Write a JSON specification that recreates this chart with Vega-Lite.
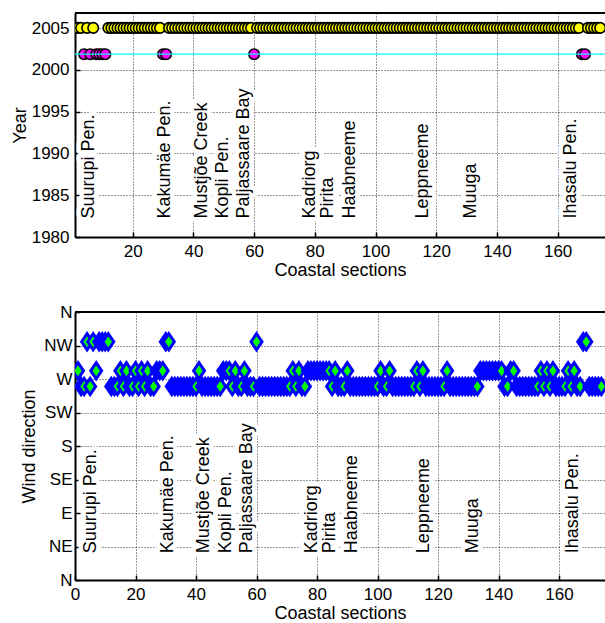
{
  "$schema": "https://vega.github.io/schema/vega-lite/v6.json",
  "background": "white",
  "padding": {"left": 11, "top": 12, "right": 0, "bottom": 0},
  "spacing": 24,
  "config": {
    "font": "Liberation Sans",
    "view": {"stroke": null},
    "axis": {
      "labelFont": "Liberation Sans", "titleFont": "Liberation Sans",
      "labelColor": "#000", "titleColor": "#000",
      "labelFontSize": 17, "titleFontSize": 18, "titleFontWeight": "normal",
      "domainColor": "#000", "domainWidth": 2,
      "tickColor": "#000", "tickWidth": 1.5, "tickSize": -5,
      "gridColor": "#000", "gridDash": [1, 2], "gridOpacity": 0.8, "gridWidth": 1,
      "labelFlush": false, "labelOverlap": false
    }
  },
  "datasets": {
    "ref": [{"year": 2001.87}],
    "places": [
      {"name": "Suurupi Pen.", "s": 5.45},
      {"name": "Kakumäe Pen.", "s": 30.6},
      {"name": "Mustjõe Creek", "s": 42.8},
      {"name": "Kopli Pen.", "s": 49.8},
      {"name": "Paljassaare Bay", "s": 56.8},
      {"name": "Kadriorg", "s": 78.5},
      {"name": "Pirita", "s": 84.3},
      {"name": "Haabneeme", "s": 91.7},
      {"name": "Leppneeme", "s": 115.5},
      {"name": "Muuga", "s": 131.4},
      {"name": "Ihasalu Pen.", "s": 164.5}
    ],
    "sec": [
      {"s":1,"year":2005.02,"dir":281},{"s":2,"year":2005.02,"dir":260},{"s":3,"year":2005.02,"dir":260},
      {"s":4,"year":2001.87,"dir":320},{"s":5,"year":2005.02,"dir":260},{"s":6,"year":2001.87,"dir":320},
      {"s":7,"year":2005.02,"dir":281},{"s":8,"year":2001.87,"dir":320},{"s":9,"year":2001.87,"dir":320},
      {"s":10,"year":2001.87,"dir":320},{"s":11,"year":2001.87,"dir":320},{"s":12,"year":2005.02,"dir":260},
      {"s":13,"year":2005.02,"dir":260},{"s":14,"year":2005.02,"dir":260},{"s":15,"year":2005.02,"dir":281},
      {"s":16,"year":2005.02,"dir":260},{"s":17,"year":2005.02,"dir":281},{"s":18,"year":2005.02,"dir":260},
      {"s":19,"year":2005.02,"dir":260},{"s":20,"year":2005.02,"dir":281},{"s":21,"year":2005.02,"dir":260},
      {"s":22,"year":2005.02,"dir":281},{"s":23,"year":2005.02,"dir":260},{"s":24,"year":2005.02,"dir":281},
      {"s":25,"year":2005.02,"dir":260},{"s":26,"year":2005.02,"dir":260},{"s":27,"year":2005.02,"dir":281},
      {"s":28,"year":2005.02,"dir":281},{"s":29,"year":2005.02,"dir":281},{"s":30,"year":2001.87,"dir":320},
      {"s":31,"year":2001.87,"dir":320},{"s":32,"year":2005.02,"dir":260},{"s":33,"year":2005.02,"dir":260},
      {"s":34,"year":2005.02,"dir":260},{"s":35,"year":2005.02,"dir":260},{"s":36,"year":2005.02,"dir":260},
      {"s":37,"year":2005.02,"dir":260},{"s":38,"year":2005.02,"dir":260},{"s":39,"year":2005.02,"dir":260},
      {"s":40,"year":2005.02,"dir":260},{"s":41,"year":2005.02,"dir":281},{"s":42,"year":2005.02,"dir":260},
      {"s":43,"year":2005.02,"dir":260},{"s":44,"year":2005.02,"dir":260},{"s":45,"year":2005.02,"dir":260},
      {"s":46,"year":2005.02,"dir":260},{"s":47,"year":2005.02,"dir":260},{"s":48,"year":2005.02,"dir":260},
      {"s":49,"year":2005.02,"dir":281},{"s":50,"year":2005.02,"dir":281},{"s":51,"year":2005.02,"dir":281},
      {"s":52,"year":2005.02,"dir":260},{"s":53,"year":2005.02,"dir":281},{"s":54,"year":2005.02,"dir":260},
      {"s":55,"year":2005.02,"dir":260},{"s":56,"year":2005.02,"dir":281},{"s":57,"year":2005.02,"dir":260},
      {"s":58,"year":2005.02,"dir":260},{"s":59,"year":2005.02,"dir":260},{"s":60,"year":2001.87,"dir":320},
      {"s":61,"year":2005.02,"dir":260},{"s":62,"year":2005.02,"dir":260},{"s":63,"year":2005.02,"dir":260},
      {"s":64,"year":2005.02,"dir":260},{"s":65,"year":2005.02,"dir":260},{"s":66,"year":2005.02,"dir":260},
      {"s":67,"year":2005.02,"dir":260},{"s":68,"year":2005.02,"dir":260},{"s":69,"year":2005.02,"dir":260},
      {"s":70,"year":2005.02,"dir":260},{"s":71,"year":2005.02,"dir":260},{"s":72,"year":2005.02,"dir":281},
      {"s":73,"year":2005.02,"dir":260},{"s":74,"year":2005.02,"dir":281},{"s":75,"year":2005.02,"dir":260},
      {"s":76,"year":2005.02,"dir":260},{"s":77,"year":2005.02,"dir":281},{"s":78,"year":2005.02,"dir":281},
      {"s":79,"year":2005.02,"dir":281},{"s":80,"year":2005.02,"dir":281},{"s":81,"year":2005.02,"dir":281},
      {"s":82,"year":2005.02,"dir":281},{"s":83,"year":2005.02,"dir":281},{"s":84,"year":2005.02,"dir":281},
      {"s":85,"year":2005.02,"dir":260},{"s":86,"year":2005.02,"dir":281},{"s":87,"year":2005.02,"dir":260},
      {"s":88,"year":2005.02,"dir":260},{"s":89,"year":2005.02,"dir":260},{"s":90,"year":2005.02,"dir":281},
      {"s":91,"year":2005.02,"dir":260},{"s":92,"year":2005.02,"dir":260},{"s":93,"year":2005.02,"dir":260},
      {"s":94,"year":2005.02,"dir":260},{"s":95,"year":2005.02,"dir":260},{"s":96,"year":2005.02,"dir":260},
      {"s":97,"year":2005.02,"dir":260},{"s":98,"year":2005.02,"dir":260},{"s":99,"year":2005.02,"dir":260},
      {"s":100,"year":2005.02,"dir":260},{"s":101,"year":2005.02,"dir":281},{"s":102,"year":2005.02,"dir":260},
      {"s":103,"year":2005.02,"dir":260},{"s":104,"year":2005.02,"dir":281},{"s":105,"year":2005.02,"dir":260},
      {"s":106,"year":2005.02,"dir":260},{"s":107,"year":2005.02,"dir":260},{"s":108,"year":2005.02,"dir":260},
      {"s":109,"year":2005.02,"dir":260},{"s":110,"year":2005.02,"dir":260},{"s":111,"year":2005.02,"dir":260},
      {"s":112,"year":2005.02,"dir":260},{"s":113,"year":2005.02,"dir":281},{"s":114,"year":2005.02,"dir":260},
      {"s":115,"year":2005.02,"dir":281},{"s":116,"year":2005.02,"dir":260},{"s":117,"year":2005.02,"dir":260},
      {"s":118,"year":2005.02,"dir":260},{"s":119,"year":2005.02,"dir":260},{"s":120,"year":2005.02,"dir":260},
      {"s":121,"year":2005.02,"dir":260},{"s":122,"year":2005.02,"dir":260},{"s":123,"year":2005.02,"dir":281},
      {"s":124,"year":2005.02,"dir":260},{"s":125,"year":2005.02,"dir":260},{"s":126,"year":2005.02,"dir":260},
      {"s":127,"year":2005.02,"dir":260},{"s":128,"year":2005.02,"dir":260},{"s":129,"year":2005.02,"dir":260},
      {"s":130,"year":2005.02,"dir":260},{"s":131,"year":2005.02,"dir":260},{"s":132,"year":2005.02,"dir":260},
      {"s":133,"year":2005.02,"dir":260},{"s":134,"year":2005.02,"dir":281},{"s":135,"year":2005.02,"dir":281},
      {"s":136,"year":2005.02,"dir":281},{"s":137,"year":2005.02,"dir":281},{"s":138,"year":2005.02,"dir":281},
      {"s":139,"year":2005.02,"dir":281},{"s":140,"year":2005.02,"dir":281},{"s":141,"year":2005.02,"dir":281},
      {"s":142,"year":2005.02,"dir":260},{"s":143,"year":2005.02,"dir":260},{"s":144,"year":2005.02,"dir":281},
      {"s":145,"year":2005.02,"dir":281},{"s":146,"year":2005.02,"dir":260},{"s":147,"year":2005.02,"dir":260},
      {"s":148,"year":2005.02,"dir":260},{"s":149,"year":2005.02,"dir":260},{"s":150,"year":2005.02,"dir":260},
      {"s":151,"year":2005.02,"dir":260},{"s":152,"year":2005.02,"dir":260},{"s":153,"year":2005.02,"dir":260},
      {"s":154,"year":2005.02,"dir":281},{"s":155,"year":2005.02,"dir":260},{"s":156,"year":2005.02,"dir":281},
      {"s":157,"year":2005.02,"dir":260},{"s":158,"year":2005.02,"dir":281},{"s":159,"year":2005.02,"dir":260},
      {"s":160,"year":2005.02,"dir":260},{"s":161,"year":2005.02,"dir":260},{"s":162,"year":2005.02,"dir":260},
      {"s":163,"year":2005.02,"dir":281},{"s":164,"year":2005.02,"dir":260},{"s":165,"year":2005.02,"dir":281},
      {"s":166,"year":2005.02,"dir":260},{"s":167,"year":2005.02,"dir":260},{"s":168,"year":2001.87,"dir":320},
      {"s":169,"year":2001.87,"dir":320},{"s":170,"year":2005.02,"dir":260},{"s":171,"year":2005.02,"dir":260},
      {"s":172,"year":2005.02,"dir":260},{"s":173,"year":2005.02,"dir":260},{"s":174,"year":2005.02,"dir":260}
    ]
  },
  "vconcat": [
    {
      "width": 530,
      "height": 224,
      "layer": [
        {
          "data": {"name": "sec"},
          "mark": {"type": "point", "shape": "circle", "filled": true, "size": 110, "stroke": "#000", "strokeWidth": 1.6, "opacity": 1, "clip": true},
          "encoding": {
            "x": {"field": "s", "type": "quantitative", "scale": {"domain": [1, 175.6], "nice": false, "zero": false},
                  "axis": {"values": [20, 40, 60, 80, 100, 120, 140, 160], "tickCount": 30, "title": "Coastal sections", "grid": true, "labelPadding": 11, "titlePadding": 2}},
            "y": {"field": "year", "type": "quantitative", "scale": {"domain": [1980, 2006.8], "nice": false, "zero": false},
                  "axis": {"values": [1980, 1985, 1990, 1995, 2000, 2005], "tickCount": 30, "format": "d", "title": "Year", "grid": true, "labelPadding": 11, "titlePadding": 2}},
            "fill": {"field": "year", "type": "nominal", "scale": {"domain": [2005.02, 2001.87], "range": ["#FFFF00", "#FF00FF"]}, "legend": null}
          }
        },
        {
          "data": {"name": "ref"},
          "mark": {"type": "rule", "color": "#00FFFF", "strokeWidth": 1.2},
          "encoding": {
            "y": {"field": "year", "type": "quantitative"}
          }
        },
        {
          "data": {"name": "ref"},
          "mark": {"type": "rule", "color": "#000", "strokeWidth": 2},
          "encoding": {
            "y": {"datum": 2006.8, "type": "quantitative"}
          }
        },
        {
          "data": {"name": "places"},
          "mark": {"type": "text", "angle": 270, "align": "left", "baseline": "middle", "fontSize": 18, "font": "Liberation Sans", "fill": "#fff", "stroke": "#fff", "strokeWidth": 9, "strokeJoin": "round"},
          "encoding": {
            "x": {"field": "s", "type": "quantitative"},
            "y": {"datum": 1982.2, "type": "quantitative"},
            "text": {"field": "name"}
          }
        },
        {
          "data": {"name": "places"},
          "mark": {"type": "text", "angle": 270, "align": "left", "baseline": "middle", "fontSize": 18, "font": "Liberation Sans", "fill": "#000"},
          "encoding": {
            "x": {"field": "s", "type": "quantitative"},
            "y": {"datum": 1982.2, "type": "quantitative"},
            "text": {"field": "name"}
          }
        }
      ]
    },
    {
      "width": 530,
      "height": 268,
      "layer": [
        {
          "data": {"name": "sec"},
          "mark": {"type": "point", "shape": "M-0.68,0L0,-1L0.68,0L0,1Z", "filled": true, "fill": "#00FF00", "stroke": "#0000FF", "strokeWidth": 3, "size": 260, "opacity": 1, "clip": true},
          "encoding": {
            "x": {"field": "s", "type": "quantitative", "scale": {"domain": [0, 175.2], "nice": false, "zero": false},
                  "axis": {"values": [0, 20, 40, 60, 80, 100, 120, 140, 160], "tickCount": 30, "title": "Coastal sections", "grid": true, "labelPadding": 11, "titlePadding": 2}},
            "y": {"field": "dir", "type": "quantitative", "scale": {"domain": [0, 360], "nice": false, "zero": false},
                  "axis": {"values": [0, 45, 90, 135, 180, 225, 270, 315, 360], "tickCount": 30, "labelExpr": "['N','NE','E','SE','S','SW','W','NW','N'][round(datum.value/45)]", "title": "Wind direction", "grid": true, "labelPadding": 8, "titlePadding": 5}}
          }
        },
        {
          "data": {"name": "ref"},
          "mark": {"type": "rule", "color": "#000", "strokeWidth": 2},
          "encoding": {
            "y": {"datum": 360, "type": "quantitative"}
          }
        },
        {
          "data": {"name": "places"},
          "mark": {"type": "text", "angle": 270, "align": "left", "baseline": "middle", "fontSize": 18, "font": "Liberation Sans", "fill": "#fff", "stroke": "#fff", "strokeWidth": 9, "strokeJoin": "round"},
          "encoding": {
            "x": {"field": "s", "type": "quantitative"},
            "y": {"datum": 36, "type": "quantitative"},
            "text": {"field": "name"}
          }
        },
        {
          "data": {"name": "places"},
          "mark": {"type": "text", "angle": 270, "align": "left", "baseline": "middle", "fontSize": 18, "font": "Liberation Sans", "fill": "#000"},
          "encoding": {
            "x": {"field": "s", "type": "quantitative"},
            "y": {"datum": 36, "type": "quantitative"},
            "text": {"field": "name"}
          }
        }
      ]
    }
  ]
}
